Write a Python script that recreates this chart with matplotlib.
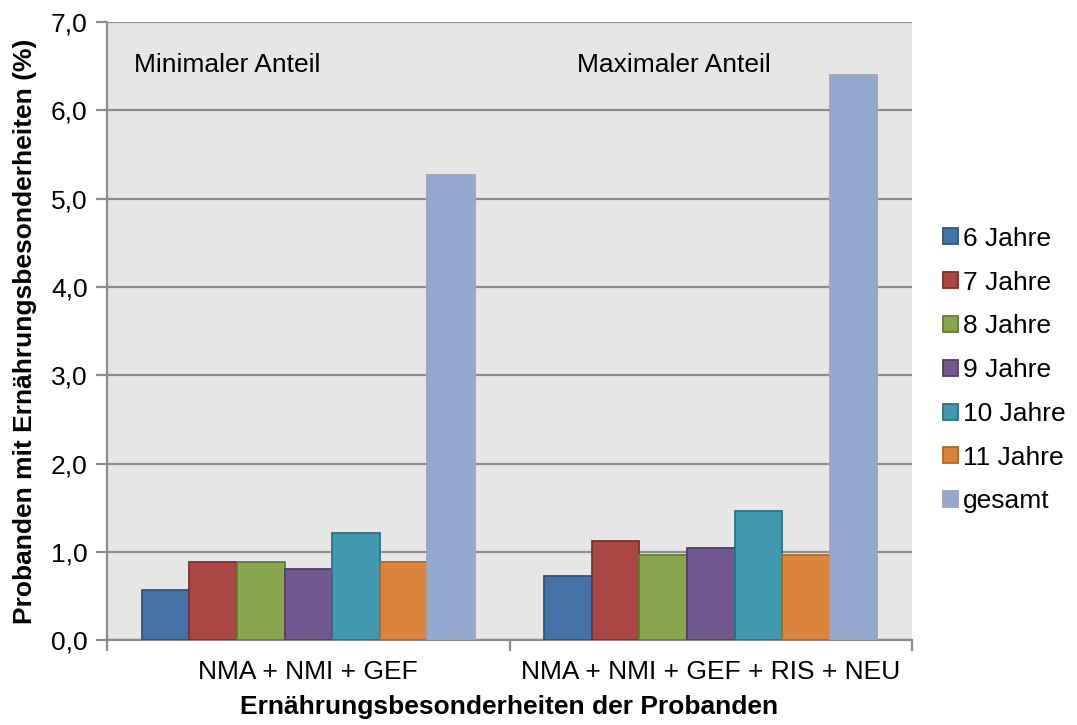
import numpy as np
import matplotlib
matplotlib.use('Agg')
from matplotlib import pyplot as plt

plt.rcParams['font.family'] = ['Liberation Sans', 'DejaVu Sans']

groups = ["NMA + NMI + GEF", "NMA + NMI + GEF + RIS + NEU"]
series = ["6 Jahre", "7 Jahre", "8 Jahre", "9 Jahre", "10 Jahre", "11 Jahre", "gesamt"]
values = [
    [0.57, 0.73],   # 6 Jahre
    [0.89, 1.13],   # 7 Jahre
    [0.89, 0.97],   # 8 Jahre
    [0.81, 1.05],   # 9 Jahre
    [1.21, 1.46],   # 10 Jahre
    [0.89, 0.97],   # 11 Jahre
    [5.27, 6.40],   # gesamt
]
annotations = ["Minimaler Anteil", "Maximaler Anteil"]

colors = ["#4572A7", "#AA4643", "#89A54E", "#71588F", "#4198AF", "#DB843D", "#95A9D0"]
edges = ["#2F5483", "#7E2D2B", "#647A35", "#4F3D67", "#2A7186", "#B3661F", "#9CA5B5"]

FS = 19

fig = plt.figure(figsize=(10.77, 7.25), dpi=100)
ax = fig.add_axes([0.0994, 0.1168, 0.7474, 0.8529])
ax.set_facecolor("#E6E6E6")

n = len(series)
w = 0.827 / n
x = np.arange(len(groups))
for i, name in enumerate(series):
    ax.bar(x - 0.827 / 2 + w * (i + 0.5), values[i], width=w, color=colors[i],
           edgecolor=edges[i], linewidth=1.3, label=name, zorder=3)

ax.set_xlim(-0.5, len(groups) - 0.5)
ax.set_ylim(0, 7)
ax.set_yticks(np.arange(0, 7.1, 1.0))
ax.set_yticklabels([f"{v:.1f}".replace(".", ",") for v in np.arange(0, 7.1, 1.0)], fontsize=FS)
ax.yaxis.grid(True, color="#8C8C8C", linewidth=1.6, zorder=1)
ax.set_axisbelow(True)

ax.set_xticks(x)
ax.set_xticklabels(groups, fontsize=FS)
ax.tick_params(axis='x', length=0, pad=14)
ax.set_xticks([-0.5, 0.5, 1.5], minor=True)
ax.tick_params(axis='x', which='minor', length=8, width=1.6, color="#8C8C8C")
ax.tick_params(axis='y', length=8, width=1.6, color="#8C8C8C", pad=6)

for s in ["top", "right"]:
    ax.spines[s].set_visible(False)
for s in ["left", "bottom"]:
    ax.spines[s].set_color("#8C8C8C")
    ax.spines[s].set_linewidth(1.6)

ax.text(0.033, 0.93, annotations[0], transform=ax.transAxes, fontsize=FS, va='center')
ax.text(0.584, 0.93, annotations[1], transform=ax.transAxes, fontsize=FS, va='center')

ax.set_xlabel("Ernährungsbesonderheiten der Probanden", fontsize=FS, fontweight='bold', labelpad=8)
ax.set_ylabel("Probanden mit Ernährungsbesonderheiten (%)", fontsize=FS, fontweight='bold', labelpad=10)

leg = ax.legend(loc='center left', bbox_to_anchor=(1.019, 0.437), frameon=False, fontsize=FS,
                handlelength=0.55, handleheight=0.55, handletextpad=0.2, labelspacing=0.75,
                borderaxespad=0.2)

fig.savefig("out.png", dpi=100)
